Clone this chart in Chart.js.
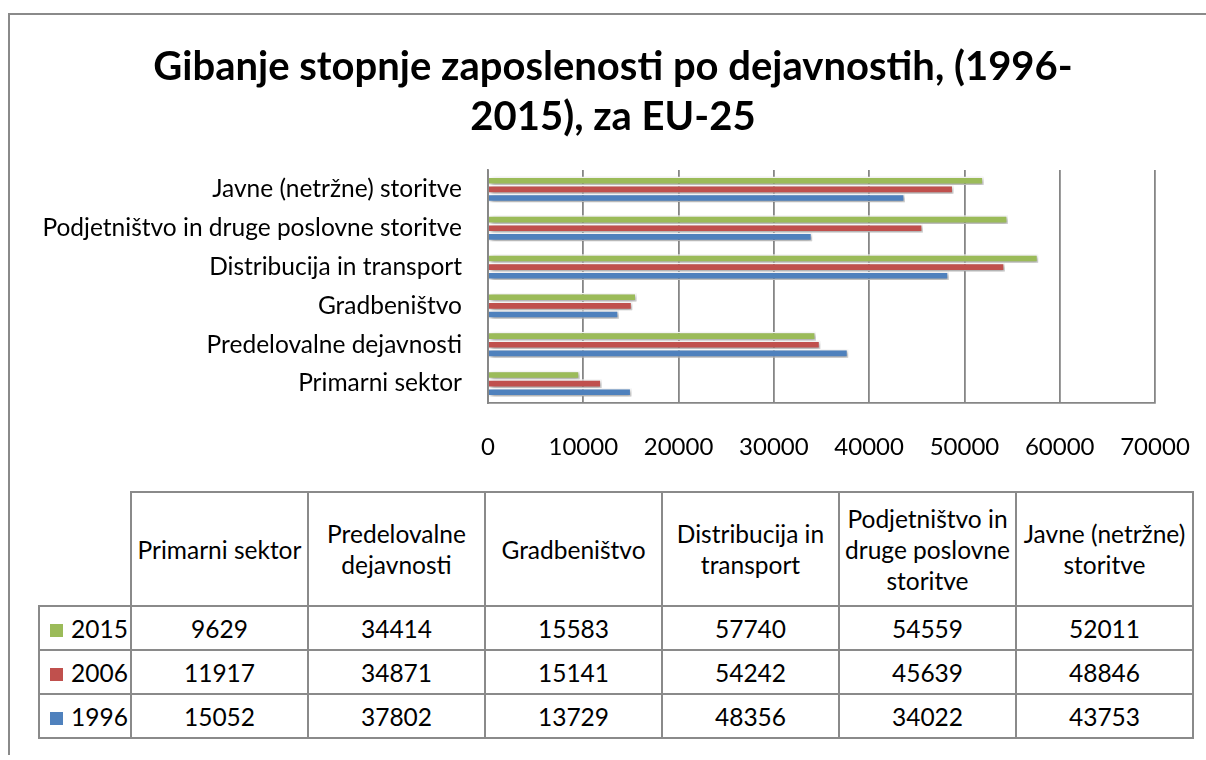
<!DOCTYPE html>
<html>
<head>
<meta charset="utf-8">
<script src="https://cdn.jsdelivr.net/npm/chart.js@4/dist/chart.umd.min.js"></script>
<style>
  html, body { margin: 0; background: #fff; font-family: Lato, sans-serif; overflow: hidden; width: 1206px; height: 760px; }
  #frame { position: absolute; left: 8px; top: 13px; width: 1190px; height: 740px; border-top: 2px solid #8a8a8a; border-left: 2px solid #8a8a8a; }
  #frame::after { content: ''; position: absolute; left: 1190px; top: -2px; width: 20px; height: 2px; background: #8a8a8a; }
  #wrap { position: absolute; left: 0; top: 0; width: 1206px; height: 480px; }
  #tbl { position: absolute; left: 38px; top: 491px; border-collapse: collapse; table-layout: fixed; font-family: Lato, sans-serif; font-size: 24.5px; color: #000; }
  #tbl td { border: 2px solid #8a8a8a; text-align: center; vertical-align: middle; padding: 0; line-height: 31px; }
  #tbl td.blank { border-top: none; border-left: none; }
  #tbl tr.head td { height: 112px; }
  #tbl tr.row td { height: 42px; }
  #tbl td.leg { text-align: left; padding-left: 10px; white-space: nowrap; }
  .sw { display: inline-block; width: 13px; height: 13px; margin-right: 8px; vertical-align: 1px; }
</style>
</head>
<body>
<div id="frame"></div>
<div id="wrap"><canvas id="chart"></canvas></div>
<table id="tbl"></table>
<script>
// data from the table under the chart
const categories = ['Primarni sektor', 'Predelovalne dejavnosti', 'Gradbeništvo', 'Distribucija in transport', 'Podjetništvo in druge poslovne storitve', 'Javne (netržne) storitve'];
const years = ['2015', '2006', '1996'];
const values2015 = [9629, 34414, 15583, 57740, 54559, 52011];
const values2006 = [11917, 34871, 15141, 54242, 45639, 48846];
const values1996 = [15052, 37802, 13729, 48356, 34022, 43753];
const xTickValues = [0, 10000, 20000, 30000, 40000, 50000, 60000, 70000];

const seriesValues = [values2015, values2006, values1996];
const seriesColors = ['#9BBB59', '#C0504D', '#4F81BD'];
const font = 'Lato';

// bars read top-down in the chart, so flip the category order
const chartLabels = categories.slice().reverse();

const barShadow = {
  id: 'barShadow',
  beforeDatasetsDraw(chart) {
    const ctx = chart.ctx;
    ctx.save();
    ctx.shadowColor = 'rgba(0,0,0,0.4)';
    ctx.shadowBlur = 4;
    ctx.shadowOffsetX = 2;
    ctx.shadowOffsetY = 2;
  },
  afterDatasetsDraw(chart) {
    chart.ctx.restore();
  }
};

new Chart(document.getElementById('chart').getContext('2d'), {
  type: 'bar',
  data: {
    labels: chartLabels,
    datasets: years.map((y, i) => ({
      label: y,
      data: seriesValues[i].slice().reverse(),
      backgroundColor: seriesColors[i],
      borderColor: '#fff',
      borderWidth: 1.5,
      categoryPercentage: 0.665,
      barPercentage: 1
    }))
  },
  options: {
    indexAxis: 'y',
    responsive: true,
    maintainAspectRatio: false,
    animation: false,
    layout: { padding: { left: 20, right: 0, top: 0, bottom: 0 } },
    plugins: {
      legend: { display: false },
      tooltip: { enabled: false },
      title: {
        display: true,
        text: ['Gibanje stopnje zaposlenosti po dejavnostih, (1996-', '2015), za EU-25'],
        color: '#000',
        font: { family: font, size: 40, weight: 'bold', lineHeight: 1.25 },
        padding: { top: 42, bottom: 28 }
      }
    },
    scales: {
      x: {
        min: 0,
        max: 70000,
        afterBuildTicks(scale) { scale.ticks = xTickValues.map(v => ({ value: v })); },
        afterFit(scale) { scale.height = 77; },
        ticks: {
          color: '#000',
          font: { family: font, size: 24 },
          padding: 0,
          maxRotation: 0,
          callback: v => String(v)
        },
        // invisible tick marks give the gap between axis and labels
        grid: { color: '#868686', lineWidth: 1.8, drawTicks: true, tickLength: 30, tickColor: 'rgba(0,0,0,0)' },
        border: { display: true, color: '#868686', width: 1.8 }
      },
      y: {
        afterFit(scale) { scale.width = 468; },
        ticks: { color: '#000', font: { family: font, size: 24.5 }, padding: 26 },
        grid: { display: false, drawTicks: false },
        border: { display: true, color: '#868686', width: 1.8 }
      },
      // empty right-hand axis, only keeps the plot clear of the right edge
      yRight: {
        position: 'right',
        afterFit(scale) { scale.width = 51; },
        ticks: { display: false },
        grid: { display: false, drawTicks: false },
        border: { display: false }
      }
    }
  },
  plugins: [barShadow]
});

// data table under the chart
const tbl = document.getElementById('tbl');
let html = '<colgroup><col style="width:92px">' + categories.map(() => '<col style="width:177px">').join('') + '</colgroup>';
html += '<tr class="head"><td class="blank"></td>' + categories.map(c => '<td>' + c + '</td>').join('') + '</tr>';
years.forEach((y, i) => {
  html += '<tr class="row"><td class="leg"><span class="sw" style="background:' + seriesColors[i] + '"></span>' + y + '</td>' +
    seriesValues[i].map(v => '<td>' + v + '</td>').join('') + '</tr>';
});
tbl.innerHTML = html;
</script>
</body>
</html>
